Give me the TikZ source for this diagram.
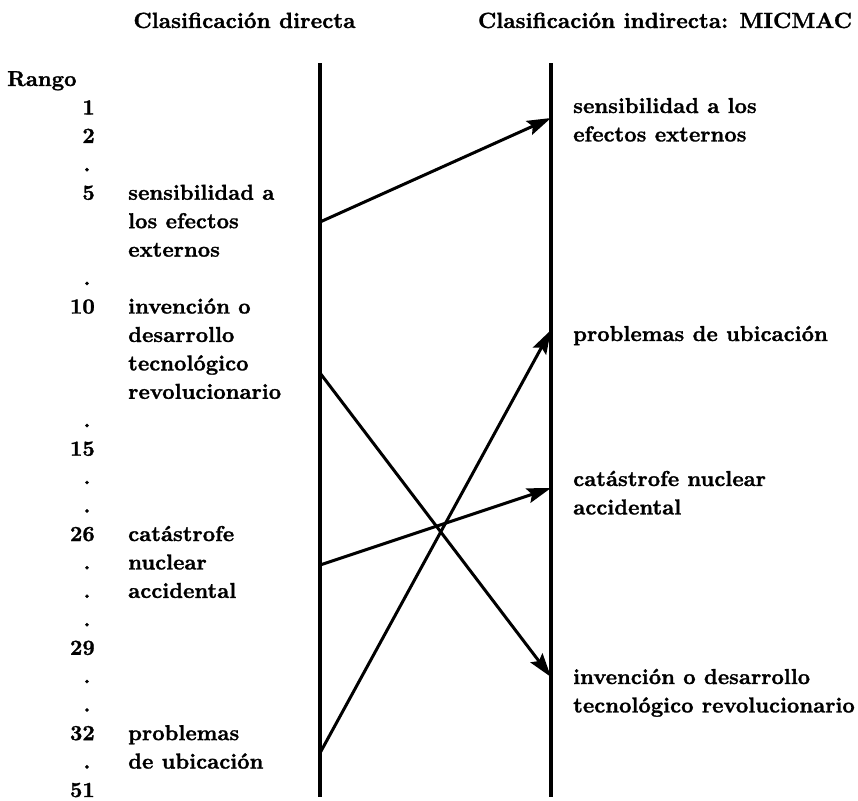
\documentclass[tikz,border=0pt]{standalone}
\usepackage{fontspec}
\usetikzlibrary{arrows.meta}
% heavy face for all labels
\newfontfamily\heavyfont{lmroman10-bold.otf}[FakeBold=1.3]
% first line of the stack sits on the node's baseline
\newcommand\lblstack[1]{\begin{tabular}[t]{@{}l@{}}#1\end{tabular}}
\begin{document}
\begin{tikzpicture}[x=1pt,y=-1pt,
  txt/.style={inner sep=0pt, font=\heavyfont\fontsize{21.6}{28.44}\selectfont},
  title/.style={txt, anchor=base, font=\heavyfont\fontsize{22}{28}\selectfont},
  lbl/.style={txt, anchor=base west},
  rank/.style={txt, anchor=base east},
  rdot/.style={txt, anchor=base},
  axis/.style={line width=3.2pt},
  link/.style={line width=3pt, -{Stealth[length=24pt,width=15pt,inset=4pt]}}]
\useasboundingbox (0,0) rectangle (858,800);

% column headings
\node[title] (hdir) at (244.5,28) {Clasificación directa};
\node[title] (hind) at (665,28) {Clasificación indirecta: MICMAC};

% rank column, rows 28.44 apart
\def\rowy#1{86+28.44*#1}
\node[lbl] (rango) at (7,{\rowy{0}}) {Rango};
\foreach \k/\n in {1/1,2/2,4/5,8/10,13/15,16/26,20/29,23/32,25/51}
  \node[rank] (r\n) at (95,{\rowy{\k}}) {\n};
\foreach \k in {3,7,12,14,15,17,18,19,21,22,24}
  \node[rdot] (dot\k) at (87,{\rowy{\k}}) {.};

% direct classification labels
\node[lbl] (dsens) at (128,{\rowy{4}}) {\lblstack{sensibilidad a\\los efectos\\externos}};
\node[lbl] (dinv)  at (128,{\rowy{8}}) {\lblstack{invención o\\desarrollo\\tecnológico\\revolucionario}};
\node[lbl] (dcat)  at (128,{\rowy{16}}) {\lblstack{catástrofe\\nuclear\\accidental}};
\node[lbl] (dprob) at (128,{\rowy{23}}) {\lblstack{problemas\\de ubicación}};

% indirect classification labels
\node[lbl] (isens) at (573,113) {\lblstack{sensibilidad a los\\efectos externos}};
\node[lbl] (iprob) at (573,341) {problemas de ubicación};
\node[lbl] (icat)  at (573,486) {\lblstack{catástrofe nuclear\\accidental}};
\node[lbl] (iinv)  at (573,684) {\lblstack{invención o desarrollo\\tecnológico revolucionario}};

% the two rank axes
\coordinate (Ltop) at (320,63);
\coordinate (Lbot) at (320,797);
\coordinate (Rtop) at (551,63);
\coordinate (Rbot) at (551,797);
\draw[axis] (Ltop) -- (Lbot);
\draw[axis] (Rtop) -- (Rbot);

% positions of each variable on both axes
\coordinate (Lsens) at (320,222);
\coordinate (Linv)  at (320,373);
\coordinate (Lcat)  at (320,565);
\coordinate (Lprob) at (320,753);
\coordinate (Rsens) at (551,118);
\coordinate (Rprob) at (551,330);
\coordinate (Rcat)  at (551,488);
\coordinate (Rinv)  at (551,677);

\draw[link] (Lsens) -- (Rsens);
\draw[link] (Linv)  -- (Rinv);
\draw[link] (Lcat)  -- (Rcat);
\draw[link] (Lprob) -- (Rprob);
\end{tikzpicture}
\end{document}
